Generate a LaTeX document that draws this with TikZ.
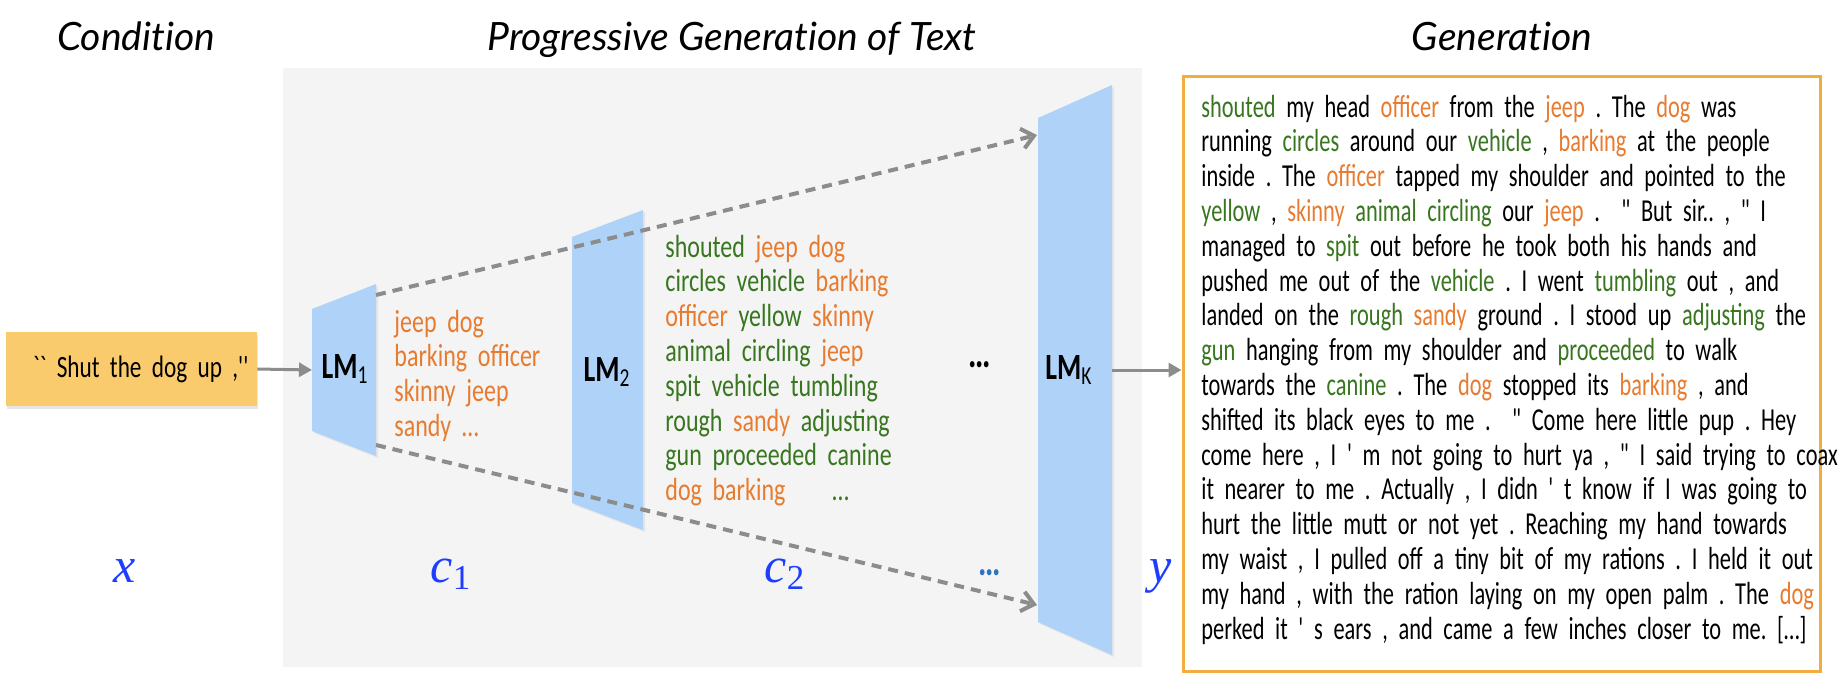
\documentclass[tikz,border=0pt]{standalone}
\usepackage{fontspec}
\usetikzlibrary{arrows.meta,shadows}

\newfontfamily\txtfont[FakeStretch=0.75,Ligatures=TeXOff]{Carlito}
\newfontfamily\gentxtfont[FakeStretch=0.70,Ligatures=TeXOff]{Carlito}
\newfontfamily\titlefont[Ligatures=NoCommon]{Lato}
\newfontfamily\varfont{Liberation Serif}
\frenchspacing

\definecolor{panelgray}{HTML}{F4F4F4}
\definecolor{lmblue}{HTML}{AFD3F8}
\definecolor{condyellow}{HTML}{F9CB6D}
\definecolor{genframe}{HTML}{F2AE3C}
\definecolor{arrgray}{HTML}{8C8C8C}
\definecolor{wordgreen}{HTML}{38761F}
\definecolor{wordorange}{HTML}{E77B2F}
\definecolor{mathblue}{HTML}{1E3DFF}
\definecolor{dotblue}{HTML}{2F74C0}

\newcommand{\gword}[1]{\textcolor{wordgreen}{#1}}
\newcommand{\oword}[1]{\textcolor{wordorange}{#1}}
\newcommand{\jl}[1]{\makebox[\linewidth][s]{#1}}
\newcommand{\var}[2]{{\itshape #1}\textsubscript{#2}}

\tikzset{
  heading/.style={anchor=base, inner sep=0pt, font=\titlefont\itshape\fontsize{19.5pt}{22pt}\selectfont},
  wordtxt/.style={anchor=base west, inner sep=0pt, font=\txtfont\fontsize{16pt}{17.4pt}\selectfont},
  gentxt/.style={anchor=base west, inner sep=0pt, font=\gentxtfont\fontsize{16pt}{17.4pt}\selectfont},
  dotstxt/.style={anchor=base, inner sep=0pt, font=\txtfont\bfseries\fontsize{21pt}{22pt}\selectfont},
  lmfill/.style={fill=lmblue, drop shadow={opacity=0.12, shadow xshift=1pt, shadow yshift=-1pt}},
  lmlabel/.style={anchor=base, inner sep=0pt, font=\txtfont\bfseries\fontsize{18.5pt}{22pt}\selectfont},
  mathlab/.style={anchor=base, inner sep=0pt, text=mathblue, font=\varfont\fontsize{25pt}{28pt}\selectfont},
  condbox/.style={fill=condyellow, text width=117pt, align=right, inner xsep=4.25pt, minimum height=37pt,
    font=\txtfont\fontsize{15.5pt}{18pt}\selectfont, drop shadow={opacity=0.2, shadow xshift=0.5pt, shadow yshift=-1.5pt}},
  genbox/.style={draw=genframe, line width=1.5pt, fill=white, minimum width=318.5pt, minimum height=297.5pt,
    drop shadow={opacity=0.1, shadow xshift=0.5pt, shadow yshift=-1pt}},
  dasharr/.style={draw=arrgray, line width=2pt, dash pattern=on 5pt off 3.5pt, -{Straight Barb[length=6pt,width=10pt]}},
  solidarr/.style={draw=arrgray, line width=1.5pt, -{Triangle[length=6.5pt,width=7pt]}}
}

\begin{document}
\begin{tikzpicture}[x=0.5pt,y=-0.5pt]

\useasboundingbox (0,0) rectangle (1848,686);

% headings
\node[heading] (hcond) at (136,50) {Condition};
\node[heading] (hprog) at (732,50) {Progressive Generation of Text};
\node[heading] (hgen) at (1502,50) {Generation};

% panel behind the models
\fill[panelgray] (283,68) rectangle (1142,667);

% the three models
\foreach \nm/\xl/\xr/\hl/\hr in {lm1/312/376/61/86, lm2/572/643/133/160, lmk/1038/1112/252/285}
{
    \fill[lmfill] (\xl,370-\hl) -- (\xr,370-\hr) -- (\xr,370+\hr) -- (\xl,370+\hl) -- cycle;
    \coordinate (\nm w) at (\xl,370);
    \coordinate (\nm e) at (\xr,370);
}
\coordinate (lm1ne) at (376,295);
\coordinate (lm1se) at (376,445);
\coordinate (lmknw) at (1037,135);
\coordinate (lmksw) at (1037,605);

\node[lmlabel] (lab1) at (345,378) {LM\textsubscript{\mdseries 1}};
\node[lmlabel] (lab2) at (607,381) {LM\textsubscript{\mdseries 2}};
\node[lmlabel] (labk) at (1069,379) {LM\textsubscript{\mdseries K}};

% condition
\node[condbox] (cond) at (131.5,369) {`` Shut the dog up ,''};

% intermediate texts
\node[wordtxt, text width=75pt, text=wordorange] (c1txt) at (394,332)
    {jeep dog\\barking officer\\skinny jeep\\sandy \ldots};

\node[wordtxt, text width=119.5pt] (c2txt) at (665,257)
    {\jl{\gword{shouted} \oword{jeep} \oword{dog}}\\
     \jl{\gword{circles} \gword{vehicle} \oword{barking}}\\
     \jl{\oword{officer} \gword{yellow} \oword{skinny}}\\
     \gword{animal circling} \oword{jeep}\\
     \jl{\gword{spit vehicle tumbling}}\\
     \jl{\gword{rough} \oword{sandy} \gword{adjusting}}\\
     \jl{\gword{gun proceeded canine}}\\
     \oword{dog barking}\hspace{23.5pt}\gword{\ldots}};

\node[dotstxt] (dmid) at (980,367) {\ldots};
\node[dotstxt, text=dotblue] (dbot) at (990,575) {\ldots};

% variables
\node[mathlab] (lx) at (125,582) {\var{x}{}};
\node[mathlab] (lc1) at (451,582) {\var{c}{1}};
\node[mathlab] (lc2) at (785,582) {\var{c}{2}};
\node[mathlab] (ly) at (1161,582) {\var{y}{}};

% generation
\node[genbox] (gen) at (1501.5,373.5) {};
\node[gentxt, text width=300.5pt] (gentxt) at (1201,117)
    {\jl{\gword{shouted} my head \oword{officer} from the \oword{jeep} . The \oword{dog} was}\\
     \jl{running \gword{circles} around our \gword{vehicle} , \oword{barking} at the people}\\
     \jl{inside . The \oword{officer} tapped my shoulder and pointed to the}\\
     \jl{\gword{yellow} , \oword{skinny} \gword{animal circling} our \oword{jeep} . \ " But sir.. , " I}\\
     \jl{managed to \gword{spit} out before he took both his hands and}\\
     \jl{pushed me out of the \gword{vehicle} . I went \gword{tumbling} out , and}\\
     \jl{landed on the \gword{rough} \oword{sandy} ground . I stood up \gword{adjusting} the}\\
     \jl{\gword{gun} hanging from my shoulder and \gword{proceeded} to walk}\\
     \jl{towards the \gword{canine} . The \oword{dog} stopped its \oword{barking} , and}\\
     \jl{shifted its black eyes to me . \ " Come here little pup . Hey}\\
     \jl{come here , I ' m not going to hurt ya , " I said trying to coax}\\
     \jl{it nearer to me . Actually , I didn ' t know if I was going to}\\
     \jl{hurt the little mutt or not yet . Reaching my hand towards}\\
     \jl{my waist , I pulled off a tiny bit of my rations . I held it out}\\
     \jl{my hand , with the ration laying on my open palm . The \oword{dog}}\\
     \jl{perked it ' s ears , and came a few inches closer to me. [\ldots]}};

% connectors
\draw[dasharr] (lm1ne) -- (lmknw);
\draw[dasharr] (lm1se) -- (lmksw);
\draw[solidarr] (cond.east) -- (lm1w);
\draw[solidarr] (lmke) -- (lmke -| gen.west);

\end{tikzpicture}
\end{document}
